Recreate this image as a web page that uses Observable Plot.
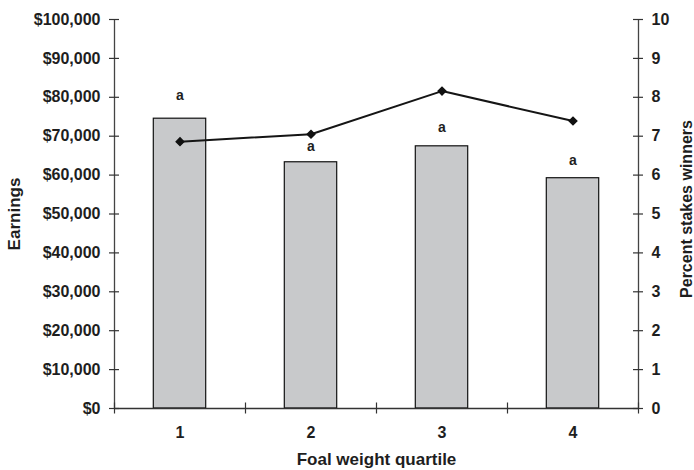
<!DOCTYPE html>
<html>
<head>
<meta charset="utf-8">
<script src="https://cdn.jsdelivr.net/npm/d3@7"></script>
<script src="https://cdn.jsdelivr.net/npm/@observablehq/plot@0.6"></script>
<style>
  html, body { margin: 0; padding: 0; background: #fff; }
</style>
</head>
<body>
<div id="chart"></div>
<script>
// Data
const quartiles = [1, 2, 3, 4];
const earnings = [74500, 63300, 67400, 59200];          // bars, left axis ($)
const pctStakesWinners = [6.86, 7.05, 8.16, 7.39];       // line, right axis (%)
const sigLetters = ["a", "a", "a", "a"];
const letterAt = [80500, 67400, 72200, 63800];           // where each letter sits ($)
const earningsTicks = [0, 10000, 20000, 30000, 40000, 50000, 60000, 70000, 80000, 90000, 100000];
const percentTicks = [0, 1, 2, 3, 4, 5, 6, 7, 8, 9, 10];
const boundaries = [0.5, 1.5, 2.5, 3.5, 4.5];

const PCT = 10000; // 1 percent drawn at $10,000 of the left scale
const bars = quartiles.map((q, i) => ({q, v: earnings[i]}));
const line = quartiles.map((q, i) => ({q, p: pctStakesWinners[i] * PCT}));
const letters = quartiles.map((q, i) => ({q, t: sigLetters[i], y: letterAt[i]}));

const W = 694, H = 470, mL = 114, mR = 56, mT = 19, mB = 62;
const fw = W - mL - mR, fh = H - mT - mB;
const ink = "#1e1e1e";

const chart = Plot.plot({
  width: W, height: H,
  marginLeft: mL, marginRight: mR, marginTop: mT, marginBottom: mB,
  style: {fontFamily: "'Liberation Sans', Arial, sans-serif", fontWeight: "bold", fontSize: "16px", color: ink, background: "#fff"},
  x: {domain: [0.5, 4.5]},
  y: {domain: [0, 100000]},
  marks: [
    Plot.rectY(bars, {x1: d => d.q - 0.2, x2: d => d.q + 0.2, y1: 0, y2: "v", fill: "#c8c9cb", stroke: "#111", strokeWidth: 1.2}),
    Plot.ruleY([0], {stroke: "#333", strokeWidth: 1.3}),
    Plot.ruleX([0.5, 4.5], {stroke: "#444", strokeWidth: 1.3}),
    // crossing tick marks
    Plot.tickY(earningsTicks, {y: d => d, insetRight: fw - 10, dx: -5, stroke: "#333", strokeWidth: 1.2}),
    Plot.tickY(percentTicks, {y: d => d * PCT, insetLeft: fw - 10, dx: 5, stroke: "#333", strokeWidth: 1.2}),
    Plot.tickX(boundaries, {x: d => d, insetTop: fh - 11, dy: 5.5, stroke: "#333", strokeWidth: 1.2}),
    // axis labels
    Plot.axisY({anchor: "left", ticks: earningsTicks, tickSize: 0, tickPadding: 14, label: null,
      tickFormat: d => "$" + d3.format(",")(d), fill: ink}),
    Plot.axisY({anchor: "right", ticks: percentTicks.map(p => p * PCT), tickSize: 0, tickPadding: 13, label: null,
      tickFormat: d => String(d / PCT), fill: ink}),
    Plot.axisX({anchor: "bottom", ticks: quartiles, tickSize: 0, tickPadding: 18, label: null,
      tickFormat: d => String(d), fill: ink}),
    // line with diamond markers
    Plot.line(line, {x: "q", y: "p", stroke: "#151515", strokeWidth: 2}),
    Plot.dot(line, {x: "q", y: "p", symbol: "diamond2", r: 3.4, fill: "#111", stroke: "#111"}),
    // significance letters
    Plot.text(letters, {x: "q", y: "y", text: "t", fontSize: 14, fill: ink}),
    // axis titles
    Plot.text(["Earnings"], {frameAnchor: "left", dx: -100, rotate: -90, textAnchor: "middle", lineAnchor: "middle",
      text: d => d, fontSize: 17, fill: ink}),
    Plot.text(["Percent stakes winners"], {frameAnchor: "right", dx: 48, dy: -5, rotate: -90, textAnchor: "middle", lineAnchor: "middle",
      text: d => d, fontSize: 16, fill: ink}),
    Plot.text(["Foal weight quartile"], {frameAnchor: "bottom", dy: 51, textAnchor: "middle", lineAnchor: "middle",
      text: d => d, fontSize: 17, fill: ink})
  ]
});
document.getElementById("chart").appendChild(chart);
</script>
</body>
</html>
